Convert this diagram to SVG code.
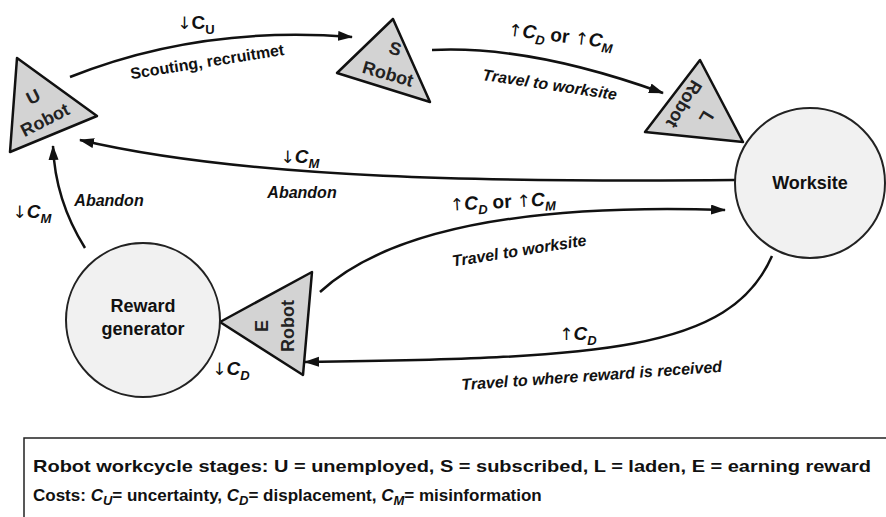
<svg xmlns="http://www.w3.org/2000/svg" width="886" height="517" viewBox="0 0 886 517">
<defs>
<marker id="ah" markerUnits="userSpaceOnUse" markerWidth="16" markerHeight="12" refX="14" refY="5" orient="auto">
<path d="M0,0 L15,5 L0,10 Z" fill="#111"/>
</marker>
<style>
.tri{fill:#d3d3d3;stroke:#111;stroke-width:2.5;stroke-linejoin:round}
.circ{fill:#f1f1f1;stroke:#222;stroke-width:2}
.edge{fill:none;stroke:#111;stroke-width:2.5;marker-end:url(#ah)}
.nl{font-family:"Liberation Sans",Arial,sans-serif;font-weight:bold;font-size:18px;fill:#222;text-anchor:middle}
.lb{font-family:"Liberation Sans",Arial,sans-serif;font-weight:bold;font-style:italic;font-size:16px;fill:#111;text-anchor:middle}
.cost{font-family:"Liberation Sans",Arial,sans-serif;font-weight:bold;font-style:italic;font-size:19px;fill:#111;text-anchor:middle}
.ar{font-family:"DejaVu Sans",sans-serif;font-style:normal;font-weight:normal;font-size:17px;fill:#111}
.sub{font-size:13px}
.leg{font-family:"Liberation Sans",Arial,sans-serif;font-weight:bold;font-size:17px;fill:#111}
</style>
</defs>

<g id="connectors">
<path class="edge" d="M70,77 Q200,25 352,37"/>
<path class="edge" d="M432,50 Q530,45 663,93"/>
<path class="edge" d="M735,180 C500,182 250,180 80,140"/>
<path class="edge" d="M85,248 Q55,200 53,146"/>
<path class="edge" d="M320,292 Q420,200 725,210"/>
<path class="edge" d="M772,256 C730,352 600,358 305,362"/>
</g>

<g id="labels">
<text class="cost" x="196" y="29" style="font-style:normal"><tspan class="ar">↓</tspan>C<tspan class="sub" dy="5">U</tspan></text>
<text class="lb" style="font-style:normal" transform="translate(208,67) rotate(-9)">Scouting, recruitmet</text>
<text class="cost" transform="translate(560,42) rotate(7)"><tspan class="ar">↑</tspan>C<tspan class="sub" dy="5">D</tspan><tspan dy="-5" font-style="normal"> or </tspan><tspan class="ar">↑</tspan>C<tspan class="sub" dy="5">M</tspan></text>
<text class="lb" transform="translate(549,90) rotate(8.5)">Travel to worksite</text>
<text class="cost" x="300" y="163"><tspan class="ar">↓</tspan>C<tspan class="sub" dy="5">M</tspan></text>
<text class="lb" x="302" y="198">Abandon</text>
<text class="cost" x="32" y="218"><tspan class="ar">↓</tspan>C<tspan class="sub" dy="5">M</tspan></text>
<text class="lb" x="109" y="206">Abandon</text>
<text class="cost" transform="translate(503,208) rotate(-3)"><tspan class="ar">↑</tspan>C<tspan class="sub" dy="5">D</tspan><tspan dy="-5" font-style="normal"> or </tspan><tspan class="ar">↑</tspan>C<tspan class="sub" dy="5">M</tspan></text>
<text class="lb" transform="translate(520,256) rotate(-9)">Travel to worksite</text>
<text class="cost" x="578" y="340"><tspan class="ar">↑</tspan>C<tspan class="sub" dy="5">D</tspan></text>
<text class="lb" transform="translate(592,381) rotate(-4)">Travel to where reward is received</text>
<text class="cost" x="231" y="375"><tspan class="ar">↓</tspan>C<tspan class="sub" dy="5">D</tspan></text>
</g>

<g id="U">
<polygon class="tri" points="17,58 97,116 10,152"/>
<g transform="translate(45,120) rotate(-27)">
<text class="nl" x="0" y="-20">U</text>
<text class="nl" x="0" y="6">Robot</text>
</g>
</g>

<g id="S">
<polygon class="tri" points="393,19 337,73 430,102"/>
<g transform="translate(388,74) rotate(16)">
<text class="nl" x="0" y="-20">S</text>
<text class="nl" x="0" y="6">Robot</text>
</g>
</g>

<g id="L">
<polygon class="tri" points="700,60 645,132 743,142"/>
<g transform="translate(684,104) rotate(121)">
<text class="nl" x="0" y="-20">L</text>
<text class="nl" x="0" y="6">Robot</text>
</g>
</g>

<g id="E">
<polygon class="tri" points="220,322 312,272 303,375"/>
<g transform="translate(288,326) rotate(-90)">
<text class="nl" x="0" y="-20">E</text>
<text class="nl" x="0" y="6">Robot</text>
</g>
</g>

<g id="worksite">
<circle class="circ" cx="810" cy="183" r="75"/>
<text class="nl" x="810" y="189" style="fill:#111">Worksite</text>
</g>

<g id="reward">
<circle class="circ" cx="143" cy="320" r="77"/>
<text class="nl" x="143" y="312" style="fill:#111">Reward</text>
<text class="nl" x="143" y="335" style="fill:#111">generator</text>
</g>

<g id="legend">
<rect x="24" y="438" width="870" height="100" fill="#fff" stroke="#222" stroke-width="1.5"/>
<text class="leg" x="33" y="472" textLength="838" lengthAdjust="spacingAndGlyphs">Robot workcycle stages: U = unemployed, S = subscribed, L = laden, E = earning reward</text>
<text class="leg" x="33" y="501">Costs: <tspan font-style="italic">C</tspan><tspan class="sub" font-style="italic" dy="4">U</tspan><tspan dy="-4">= uncertainty, </tspan><tspan font-style="italic">C</tspan><tspan class="sub" font-style="italic" dy="4">D</tspan><tspan dy="-4">= displacement, </tspan><tspan font-style="italic">C</tspan><tspan class="sub" font-style="italic" dy="4">M</tspan><tspan dy="-4">= misinformation</tspan></text>
</g>
</svg>
